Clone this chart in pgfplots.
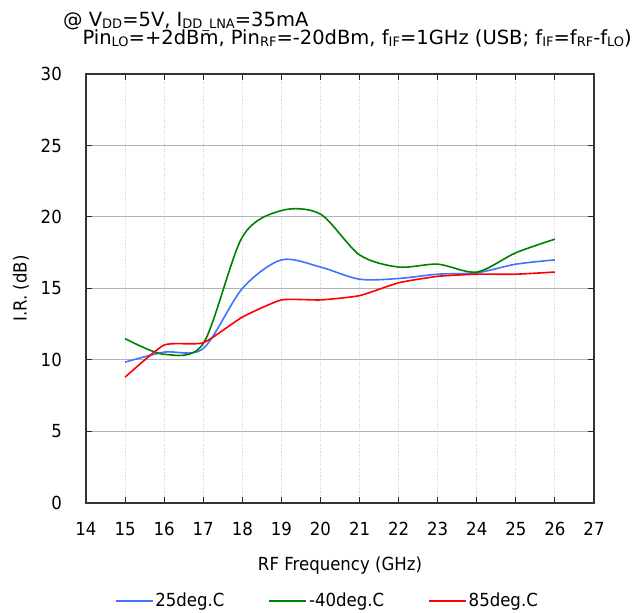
\documentclass[border=0pt]{standalone}
\usepackage{fontspec}
\setmainfont{DejaVu Sans}[FakeStretch=0.92]
\newfontfamily\titlefont{DejaVu Sans}
\usepackage{pgfplots}
\pgfplotsset{compat=1.18}
\definecolor{cblue}{RGB}{66,114,255}
\definecolor{cgreen}{RGB}{0,128,0}
\definecolor{cred}{RGB}{255,0,0}
\newcommand\sub[1]{\raisebox{-0.1ex}{\fontsize{13bp}{14bp}\selectfont #1}}
\newcommand\axfont{\fontsize{18bp}{21bp}\selectfont}
\begin{document}
\axfont
\begin{tikzpicture}
\begin{axis}[
  scale only axis, width=508bp, height=429bp,
  xmin=14, xmax=27, ymin=0, ymax=30,
  xtick={14,15,...,27}, ytick={0,5,...,30},
  /pgf/number format/assume math mode=true,
  tick label style={font=\axfont},
  xticklabel style={yshift=-13bp},
  yticklabel style={xshift=-18bp},
  label style={font=\axfont},
  xlabel style={at={(axis description cs:0.5,-0.145)}, anchor=center},
  ylabel style={at={(axis description cs:-0.128,0.5)}, anchor=center},
  tick align=inside, major tick length=6bp,
  tick style={black!85, line width=1bp},
  axis line style={black!80, line width=1.3bp},
  xmajorgrids, ymajorgrids,
  x grid style={gray!35, dotted, line width=0.9bp},
  y grid style={gray!60, line width=1bp},
  xlabel={RF Frequency (GHz)}, ylabel={I.R. (dB)},
  clip=false,
  legend columns=3,
  legend style={draw=none, at={(rel axis cs:0.475,-0.228)}, anchor=center,
    font=\axfont, /tikz/every even column/.append style={column sep=42bp}},
  legend image code/.code={\draw[#1] (0bp,0bp) -- (37bp,0bp);},
]
\addplot[cblue, line width=1.6bp, smooth] coordinates {
(15,9.85) (16,10.55) (17,10.8) (18,15.0) (19,17.0) (20,16.5) (21,15.65) (22,15.7) (23,16.0) (24,16.1) (25,16.7) (26,17.0)};
\addlegendentry{25deg.C}
\addplot[cgreen, line width=1.6bp, smooth] coordinates {
(15,11.5) (16,10.4) (17,11.15) (18,18.6) (19,20.45) (20,20.2) (21,17.35) (22,16.5) (23,16.7) (24,16.15) (25,17.5) (26,18.45)};
\addlegendentry{-40deg.C}
\addplot[cred, line width=1.6bp, smooth, tension=0.3] coordinates {
(15,8.8) (16,11.05) (17,11.2) (18,13.0) (19,14.2) (20,14.2) (21,14.5) (22,15.4) (23,15.85) (24,16.0) (25,16.0) (26,16.15)};
\addlegendentry{85deg.C}
\node[anchor=base west, inner sep=0] at ([xshift=-23bp,yshift=47bp]rel axis cs:0,1) {\titlefont\fontsize{19.5bp}{21bp}\selectfont @ V\sub{DD}=5V, I\sub{DD\_LNA}=35mA};
\node[anchor=base east, inner sep=0] at ([xshift=38bp,yshift=29bp]rel axis cs:1,1) {\titlefont\fontsize{19.5bp}{21bp}\selectfont Pin\sub{LO}=+2dBm, Pin\sub{RF}=-20dBm, f\sub{IF}=1GHz (USB; f\sub{IF}=f\sub{RF}-f\sub{LO})};
\path ([xshift=-86bp,yshift=-108bp]rel axis cs:0,0) rectangle ([xshift=40bp,yshift=74bp]rel axis cs:1,1);
\end{axis}
\end{tikzpicture}
\end{document}
